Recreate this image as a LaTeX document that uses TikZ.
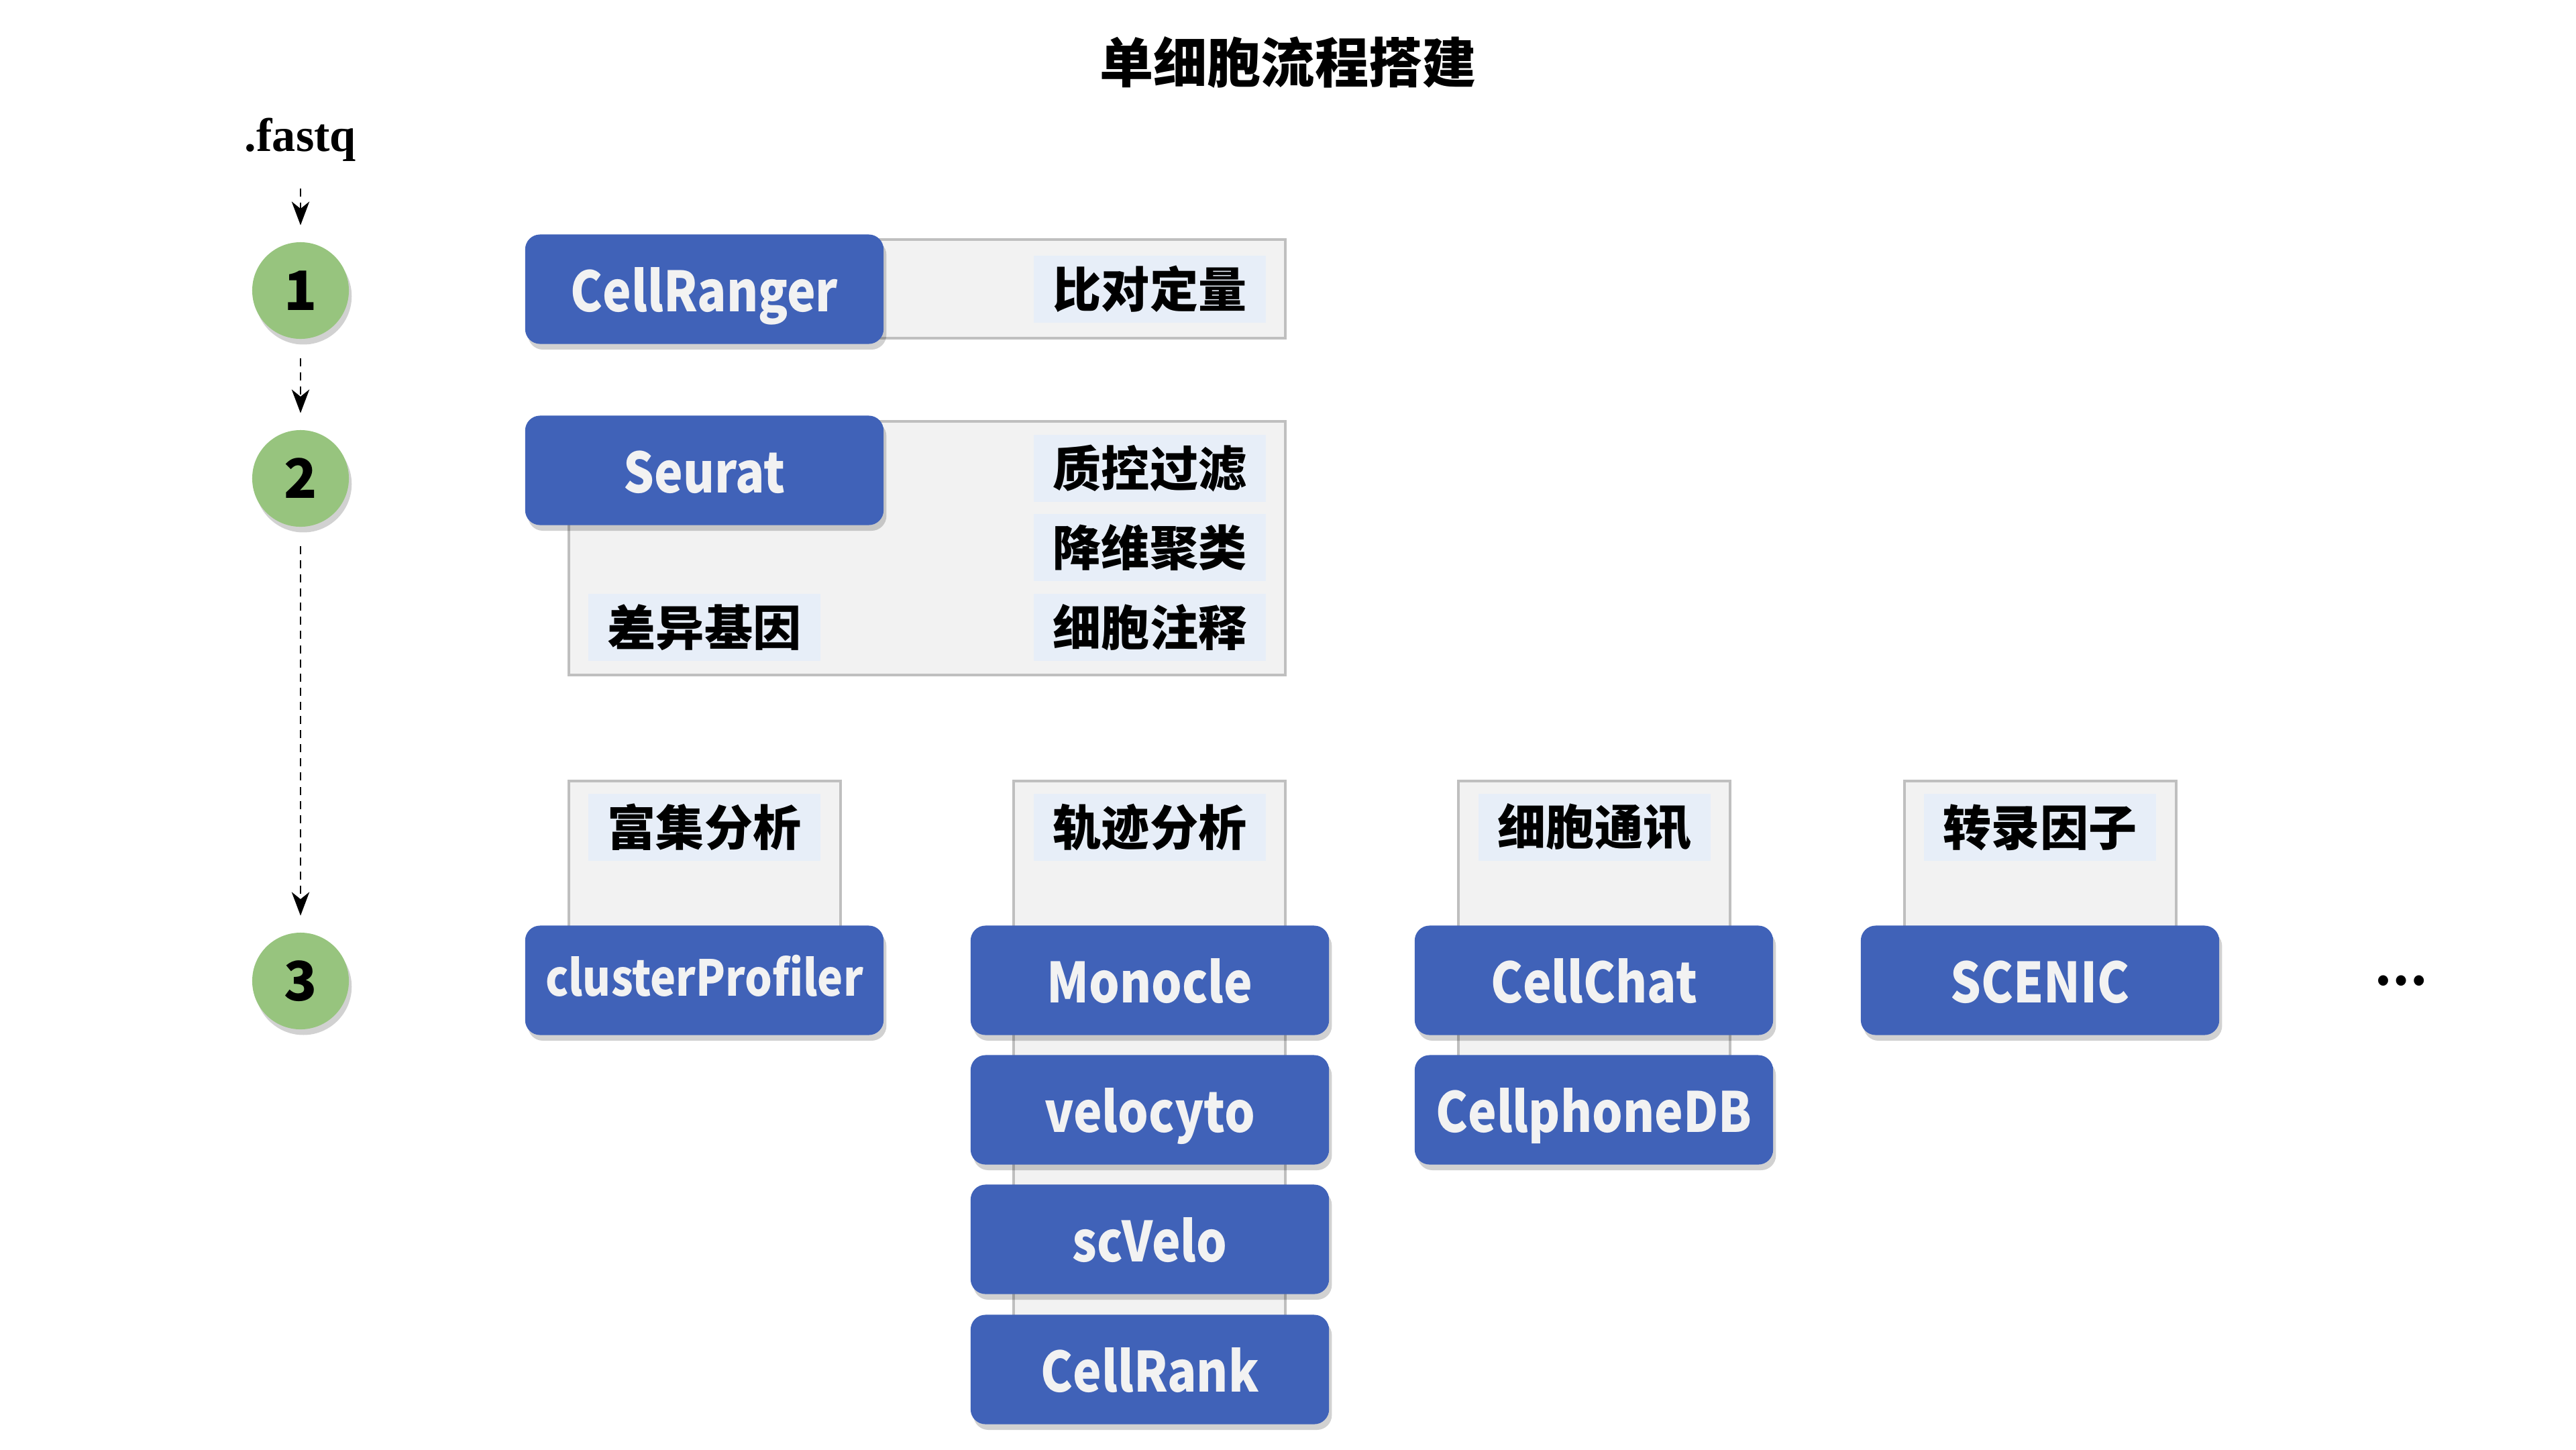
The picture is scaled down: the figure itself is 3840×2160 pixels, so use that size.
\documentclass[tikz,border=0pt]{standalone}
\usepackage{fontspec}
\newfontfamily\cjk{Noto Sans CJK SC}
\newfontfamily\toolfont{Noto Sans CJK SC}[FakeStretch=0.87]
\newfontfamily\serifb{Liberation Serif}
\usetikzlibrary{arrows.meta,shadows}

\definecolor{toolblue}{HTML}{4062B8}
\definecolor{tooltext}{HTML}{F2F2F2}
\definecolor{stepgreen}{HTML}{97C47E}
\definecolor{panelgray}{HTML}{F2F2F2}
\definecolor{panelline}{HTML}{BFBFBF}
\definecolor{taskblue}{HTML}{E7EEF8}

\tikzset{
  softshadow/.style={drop shadow={shadow xshift=1.2pt, shadow yshift=-2.4pt, opacity=0.18, fill=black}},
  tool/.style={fill=toolblue, text=tooltext, rounded corners=6.3pt, softshadow,
    minimum width=5.34cm, minimum height=1.63cm, inner sep=0pt,
    text height=0.66cm, text depth=0cm,
    font=\toolfont\bfseries\fontsize{23.5}{28}\selectfont},
  task/.style={fill=taskblue, minimum width=3.46cm, minimum height=1.0cm, inner sep=0pt,
    font=\cjk\bfseries\fontsize{20.5}{24}\selectfont},
  stepnum/.style={circle, fill=stepgreen, minimum size=1.44cm, inner sep=0pt, softshadow,
    font=\cjk\bfseries\fontsize{23}{28}\selectfont},
  panel/.style={fill=panelgray, draw=panelline, line width=1pt},
  flow/.style={dash pattern=on 3.4pt off 2.6pt, line width=0.8pt,
    -{Stealth[length=10pt, width=7.5pt, inset=3pt]}, shorten <=8pt, shorten >=7pt},
}

\begin{document}
\begin{tikzpicture}[x=0.01cm, y=-0.01cm]
    \useasboundingbox (0,0) rectangle (3840,2160);

    \node [font=\cjk\bfseries\fontsize{22.8}{26}\selectfont] (title) at (1920, 93) {单细胞流程搭建};

    \node [font=\serifb\bfseries\fontsize{20}{24}\selectfont] (fastq) at (448, 208) {.fastq};
    \node [stepnum] (s1) at (448, 433) {1};
    \node [stepnum] (s2) at (448, 713) {2};
    \node [stepnum] (s3) at (448, 1462) {3};
    \draw [flow] (fastq) -- (s1);
    \draw [flow] (s1) -- (s2);
    \draw [flow] (s2) -- (s3);

    \draw [panel] (848, 357) rectangle (1916, 504);
    \draw [panel] (848, 628) rectangle (1916, 1006);
    \draw [panel] (848, 1164) rectangle (1253, 1460);
    \draw [panel] (1511, 1164) rectangle (1916, 2040);
    \draw [panel] (2174, 1164) rectangle (2579, 1650);
    \draw [panel] (2839, 1164) rectangle (3244, 1460);

    \node [task] (align) at (1714, 431) {比对定量};
    \node [task] (qc) at (1714, 698) {质控过滤};
    \node [task] (cluster) at (1714, 816) {降维聚类};
    \node [task] (annot) at (1714, 935) {细胞注释};
    \node [task] (deg) at (1050, 935) {差异基因};
    \node [task] (enrich) at (1050, 1233) {富集分析};
    \node [task] (traj) at (1714, 1233) {轨迹分析};
    \node [task] (comm) at (2377, 1233) {细胞通讯};
    \node [task] (tf) at (3041, 1233) {转录因子};

    \node [tool] (cellranger) at (1050, 431) {CellRanger};
    \node [tool] (seurat) at (1050, 701) {Seurat};
    \node [tool, text height=0.46cm, font=\toolfont\bfseries\fontsize{21}{25}\selectfont] (clusterprofiler) at (1050, 1461) {clusterProfiler};
    \node [tool] (monocle) at (1714, 1461) {Monocle};
    \node [tool] (velocyto) at (1714, 1654) {velocyto};
    \node [tool] (scvelo) at (1714, 1847) {scVelo};
    \node [tool] (cellrank) at (1714, 2041) {CellRank};
    \node [tool] (cellchat) at (2376, 1461) {CellChat};
    \node [tool] (cellphonedb) at (2376, 1654) {CellphoneDB};
    \node [tool] (scenic) at (3041, 1461) {SCENIC};

    \node [font=\cjk\bfseries\fontsize{20}{24}\selectfont] (more) at (3579, 1462) {…};
\end{tikzpicture}
\end{document}
